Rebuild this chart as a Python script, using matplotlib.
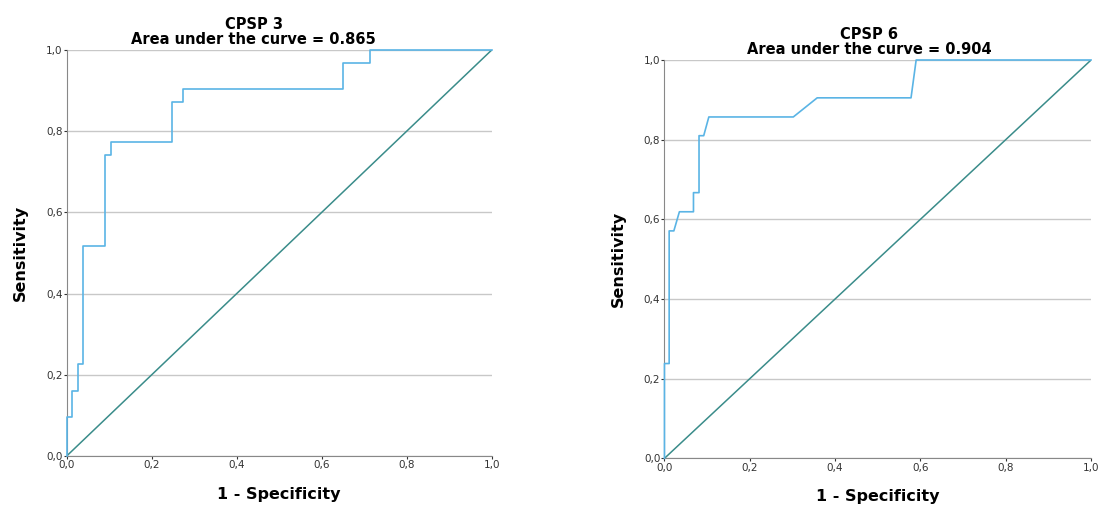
import matplotlib
matplotlib.use("Agg")
import matplotlib.pyplot as plt
from matplotlib.ticker import FuncFormatter

# ROC points (1 - specificity, sensitivity)
fpr3 = [0.0, 0.0, 0.013, 0.013, 0.026, 0.026, 0.038, 0.038, 0.091, 0.091,
        0.104, 0.104, 0.247, 0.247, 0.274, 0.274, 0.649, 0.649, 0.714, 0.714, 1.0]
tpr3 = [0.0, 0.097, 0.097, 0.161, 0.161, 0.226, 0.226, 0.516, 0.516, 0.742,
        0.742, 0.774, 0.774, 0.871, 0.871, 0.903, 0.903, 0.968, 0.968, 1.0, 1.0]

fpr6 = [0.0, 0.0, 0.011, 0.011, 0.022, 0.035, 0.068, 0.068, 0.081, 0.081,
        0.092, 0.104, 0.302, 0.358, 0.578, 0.590, 1.0]
tpr6 = [0.0, 0.238, 0.238, 0.571, 0.571, 0.619, 0.619, 0.667, 0.667, 0.810,
        0.810, 0.857, 0.857, 0.905, 0.905, 1.0, 1.0]

titles = ["CPSP 3\nArea under the curve = 0.865", "CPSP 6\nArea under the curve = 0.904"]
title_x = [0.44, 0.48]
ticks = [0.0, 0.2, 0.4, 0.6, 0.8, 1.0]

curve_col = "#5ab4e5"
diag_col = "#3a8c8a"

fig = plt.figure(figsize=(11.08, 5.15), dpi=100)
ax1 = fig.add_axes([0.0602, 0.1146, 0.3836, 0.7884])
ax2 = fig.add_axes([0.5997, 0.1100, 0.3850, 0.7735])

comma = FuncFormatter(lambda v, p: f"{v:.1f}".replace(".", ","))

for i, (ax, fx, ty) in enumerate([(ax1, fpr3, tpr3), (ax2, fpr6, tpr6)]):
    ax.plot(fx, ty, color=curve_col, lw=1.2, zorder=3, clip_on=False)
    ax.plot([0, 1], [0, 1], color=diag_col, lw=1.1, zorder=2)
    ax.set_xlim(0, 1)
    ax.set_ylim(0, 1)
    ax.set_xticks(ticks)
    ax.set_yticks(ticks)
    ax.xaxis.set_major_formatter(comma)
    ax.yaxis.set_major_formatter(comma)
    ax.grid(axis="y", color="#c8c8c8", lw=1.0)
    ax.set_axisbelow(True)
    for s in ["top", "right"]:
        ax.spines[s].set_visible(False)
    for s in ["left", "bottom"]:
        ax.spines[s].set_color("#888888")
    ax.tick_params(labelsize=7.5, colors="#333333", length=2, pad=1)
    ax.set_title(titles[i], x=title_x[i], fontsize=10.5, fontweight="bold",
                 linespacing=1.0, pad=4)
    ax.set_xlabel("1 - Specificity", fontsize=11.5, fontweight="bold", labelpad=12)
    ax.set_ylabel("Sensitivity", fontsize=11.5, fontweight="bold", labelpad=13)

fig.savefig("out.png", dpi=100)
